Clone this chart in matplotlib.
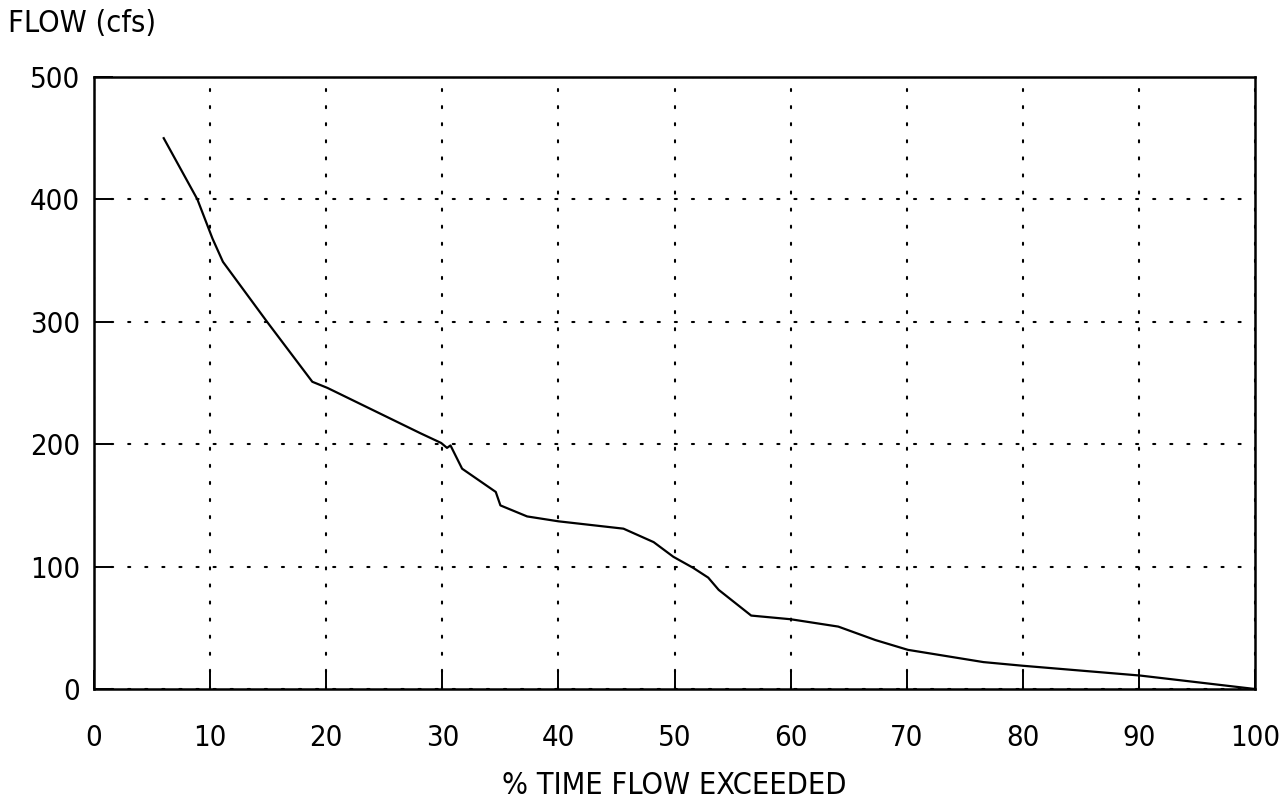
import matplotlib.pyplot as plt

# flow duration curve
pct_exceeded = [6.0, 8.9, 10.2, 11.1, 14.9, 18.8, 20.1, 28.1, 29.9, 30.4, 30.7,
                31.7, 34.6, 35.0, 37.3, 40.0, 45.6, 48.2, 49.9, 51.6, 52.9,
                53.8, 56.6, 60.0, 64.1, 67.3, 70.1, 76.6, 80.0, 90.1, 97.3, 100.0]
flow_cfs = [450, 400, 368, 349, 300, 251, 246, 209, 201, 197, 199,
            180, 161, 150, 141, 137, 131, 120, 108, 99, 91,
            81, 60, 57, 51, 40, 32, 22, 19, 11, 3, 0]

x_ticks = [0, 10, 20, 30, 40, 50, 60, 70, 80, 90, 100]
y_ticks = [0, 100, 200, 300, 400, 500]

fig = plt.figure(figsize=(12.85, 8.07), dpi=100)
ax = fig.add_axes([0.0732, 0.1462, 0.9035, 0.7584])

ax.plot(pct_exceeded, flow_cfs, color='black', linewidth=1.6)

ax.set_xlim(0, 100)
ax.set_ylim(0, 500)
ax.set_xticks(x_ticks)
ax.set_yticks(y_ticks)

font = dict(family='DejaVu Sans', fontstretch='condensed', fontsize=21)
ax.set_xticklabels([str(t) for t in x_ticks], **font)
ax.set_yticklabels([str(t) for t in y_ticks], **font)
ax.tick_params(axis='both', direction='in', length=14, width=1.4, colors='black')
ax.tick_params(axis='x', pad=25)
ax.tick_params(axis='y', pad=10)

ax.grid(True, color='black', linestyle=(0, (1, 7.2)), linewidth=1.5,
        dash_capstyle='round')
for s in ax.spines.values():
    s.set_linewidth(1.8)

ax.set_xlabel('% TIME FLOW EXCEEDED', labelpad=14, family='DejaVu Sans',
              fontstretch='condensed', fontsize=22)
fig.text(0.006, 0.971, 'FLOW (cfs)', ha='left', va='center', family='DejaVu Sans',
         fontstretch='condensed', fontsize=22)

fig.savefig('out.png', dpi=100)
